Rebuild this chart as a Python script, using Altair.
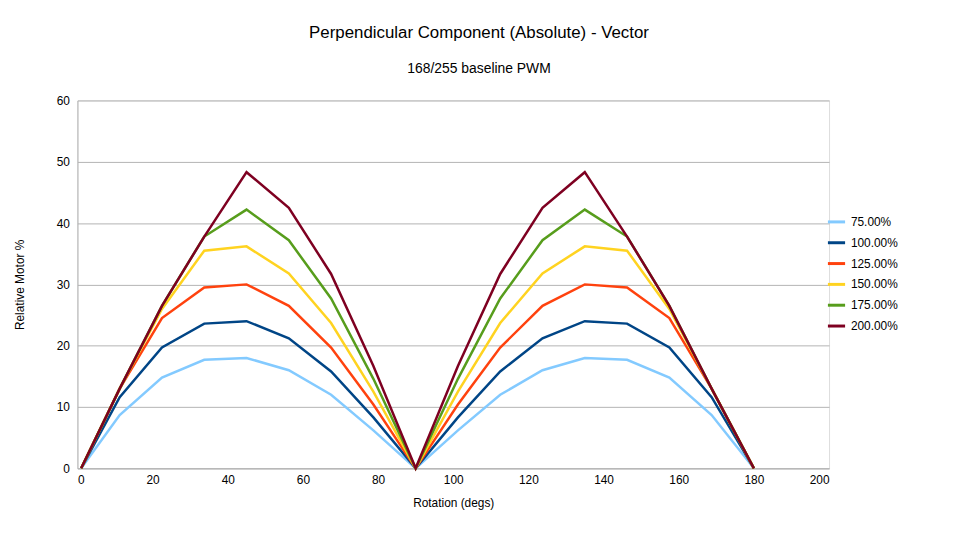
import altair as alt
import pandas as pd

x = [1, 11.25, 22.5, 33.75, 45, 56.25, 67.5, 78.75, 90, 101.25, 112.5, 123.75, 135, 146.25, 157.5, 168.75, 180]
s75 = [0, 8.7, 14.8, 17.7, 18.0, 16.0, 12.0, 6.2, 0, 6.2, 12.0, 16.0, 18.0, 17.7, 14.8, 8.7, 0]
s100 = [0, 11.6, 19.7, 23.6, 24.0, 21.2, 15.8, 8.3, 0, 8.3, 15.8, 21.2, 24.0, 23.6, 19.7, 11.6, 0]
s125 = [0, 13.0, 24.5, 29.5, 30.0, 26.5, 19.7, 10.4, 0, 10.4, 19.7, 26.5, 30.0, 29.5, 24.5, 13.0, 0]
s150 = [0, 13.0, 26.0, 35.5, 36.2, 31.8, 23.7, 12.5, 0, 12.5, 23.7, 31.8, 36.2, 35.5, 26.0, 13.0, 0]
s175 = [0, 13.0, 26.5, 37.8, 42.2, 37.2, 27.7, 14.6, 0, 14.6, 27.7, 37.2, 42.2, 37.8, 26.5, 13.0, 0]
s200 = [0, 13.0, 26.5, 37.8, 48.3, 42.5, 31.7, 16.7, 0, 16.7, 31.7, 42.5, 48.3, 37.8, 26.5, 13.0, 0]
names = ["75.00%", "100.00%", "125.00%", "150.00%", "175.00%", "200.00%"]
colors = ["#83caff", "#004586", "#ff420e", "#ffd320", "#579d1c", "#7e0021"]

rows = []
for n, s in zip(names, [s75, s100, s125, s150, s175, s200]):
    for xi, yi in zip(x, s):
        rows.append({"x": xi, "y": yi, "series": n})
df = pd.DataFrame(rows)

chart = alt.Chart(df).mark_line(strokeWidth=2.5).encode(
    x=alt.X("x:Q", title="Rotation (degs)", scale=alt.Scale(domain=[0, 200], nice=False),
            axis=alt.Axis(values=list(range(0, 201, 20)), grid=False, tickSize=0, labelPadding=6,
                          domainColor="#b3b3b3", titlePadding=12)),
    y=alt.Y("y:Q", title="Relative Motor %", scale=alt.Scale(domain=[0, 60], nice=False),
            axis=alt.Axis(values=list(range(0, 61, 10)), gridColor="#b3b3b3", tickSize=0, labelPadding=8,
                          domainColor="#b3b3b3", titlePadding=30)),
    color=alt.Color("series:N", sort=names, scale=alt.Scale(domain=names, range=colors),
                    legend=alt.Legend(title=None, orient="none", legendX=755, legendY=112,
                                      symbolType="stroke", symbolStrokeWidth=3, symbolSize=300,
                                      labelFontSize=12, rowPadding=4)),
    order=alt.Order("x:Q"),
).properties(
    width=758, height=371,
    title=alt.TitleParams("Perpendicular Component (Absolute) - Vector", subtitle="168/255 baseline PWM",
                          fontSize=17, fontWeight="normal", subtitleFontSize=14, subtitlePadding=20,
                          offset=18, dx=26, color="#000", subtitleColor="#000"),
    autosize="none",
    padding={"left": 70, "top": 91, "right": 127, "bottom": 64},
).configure_view(stroke="#b3b3b3").configure(font="Liberation Sans").configure_axis(
    labelFontSize=12, titleFontSize=12, titleFontWeight="normal", labelColor="#000", titleColor="#000")

chart.save("out.html", embed_options={"renderer": "svg", "actions": False})
